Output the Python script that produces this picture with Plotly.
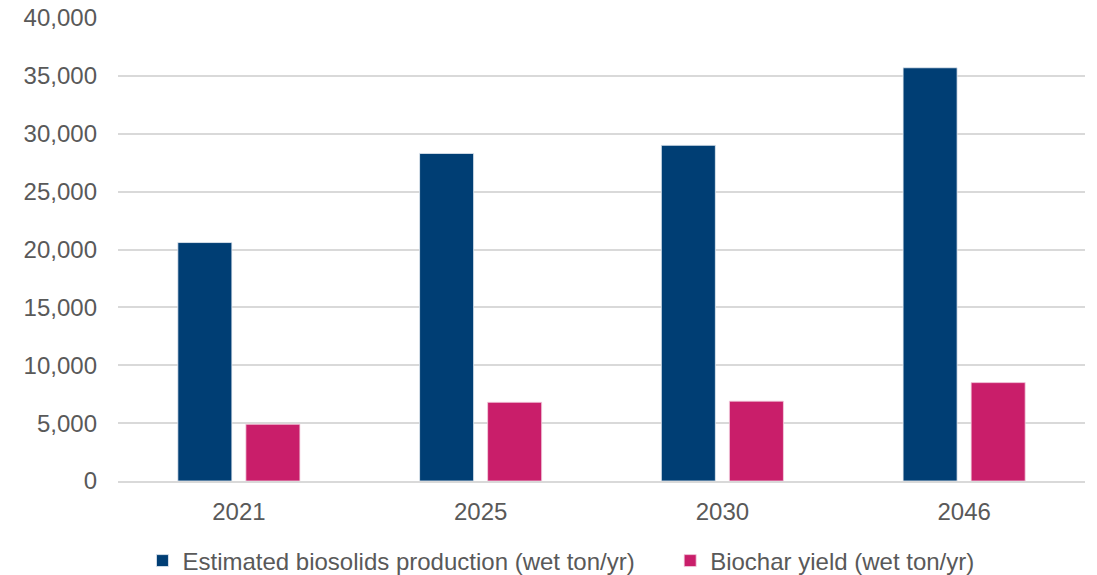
import plotly.graph_objects as go

years = ["2021", "2025", "2030", "2046"]
biosolids = [20600, 28300, 29000, 35700]
biochar = [4900, 6800, 6900, 8500]
series_names = ["Estimated biosolids production (wet ton/yr)", "Biochar yield (wet ton/yr)"]
y_ticks = [0, 5000, 10000, 15000, 20000, 25000, 30000, 35000, 40000]

fig = go.Figure()
fig.add_trace(go.Bar(x=years, y=biosolids, name=series_names[0], legend="legend",
                     marker=dict(color="#003E74", line=dict(color="#E8EEF4", width=0.8))))
fig.add_trace(go.Bar(x=years, y=biochar, name=series_names[1], legend="legend2",
                     marker=dict(color="#C91E6A", line=dict(color="#F2D0DF", width=0.8))))

font_family = "Liberation Sans, Arial, sans-serif"
legend_common = dict(orientation="h", yanchor="middle", y=-0.1728, xanchor="left",
                     font=dict(size=24, color="#595959"), itemwidth=30,
                     bgcolor="rgba(0,0,0,0)")
fig.update_layout(
    width=1097, height=575,
    margin=dict(l=118, r=12, t=18, b=94, autoexpand=False),
    paper_bgcolor="white", plot_bgcolor="white",
    barmode="group", bargap=0.437, bargroupgap=0.206,
    font=dict(family=font_family, size=24, color="#595959"),
    xaxis=dict(showgrid=False, ticks="", showline=True, linecolor="#D9D9D9", linewidth=1.5,
               automargin=False, ticklabelstandoff=8,
               tickfont=dict(size=24, color="#595959")),
    yaxis=dict(range=[0, 40000], tickvals=y_ticks, tickformat=",", showgrid=True,
               gridcolor="#D9D9D9", gridwidth=1.5, zeroline=False, showline=False,
               ticks="", ticklabelstandoff=20, automargin=False,
               tickfont=dict(size=24, color="#595959")),
    legend=dict(x=0.0253, **legend_common),
    legend2=dict(x=0.571, **legend_common),
    showlegend=True,
)

fig.write_html("out.html")
